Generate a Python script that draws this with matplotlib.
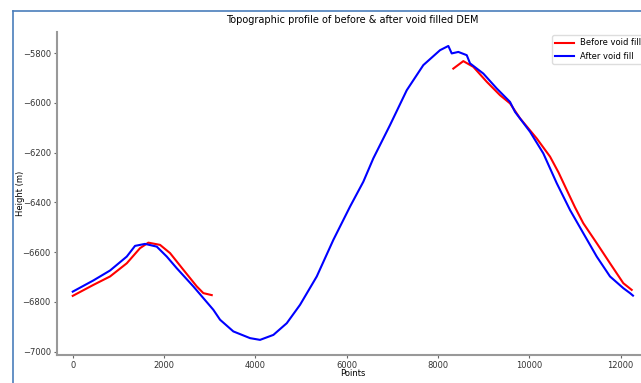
import matplotlib
matplotlib.use("Agg")
import matplotlib.pyplot as plt
from matplotlib.lines import Line2D

# after void fill (blue)
after_x = [0, 451, 817, 1183, 1364, 1583, 1840, 2059, 2278, 2641, 2860, 3079,
           3226, 3517, 3883, 4102, 4394, 4687, 4978, 5344, 5707, 6073, 6364,
           6583, 6949, 7315, 7678, 8044, 8226, 8300, 8445, 8629, 8701, 8992,
           9286, 9577, 9686, 10015, 10306, 10600, 10892, 11182, 11476, 11767,
           12058, 12205, 12270]
after_y = [-6759, -6714, -6674, -6618, -6575, -6567, -6578, -6618, -6665, -6738,
           -6785, -6832, -6872, -6919, -6946, -6953, -6933, -6886, -6812, -6698,
           -6551, -6417, -6317, -6223, -6089, -5949, -5848, -5788, -5771, -5801,
           -5795, -5808, -5841, -5882, -5942, -5996, -6036, -6116, -6203, -6323,
           -6431, -6524, -6618, -6698, -6745, -6765, -6775]

# before void fill (red), two pieces with the void between them
before_x1 = [0, 451, 817, 1183, 1474, 1656, 1912, 2131, 2422, 2716, 2860, 3044]
before_y1 = [-6776, -6732, -6698, -6645, -6584, -6562, -6571, -6604, -6671,
             -6738, -6765, -6773]
before_x2 = [8335, 8554, 8773, 9067, 9358, 9577, 9796, 10162, 10453, 10640,
             10819, 11000, 11182, 11476, 11767, 12058, 12242]
before_y2 = [-5862, -5832, -5855, -5915, -5969, -6002, -6062, -6143, -6216,
             -6280, -6350, -6420, -6484, -6564, -6645, -6725, -6752]

fig = plt.figure(figsize=(6.41, 3.83), dpi=100)
ax = fig.add_axes([0.089, 0.073, 0.922, 0.844])

ax.plot(before_x1, before_y1, color="red", lw=1.5, label="Before void fill")
ax.plot(before_x2, before_y2, color="red", lw=1.5)
ax.plot(after_x, after_y, color="blue", lw=1.5, label="After void fill")

ax.set_xlim(-344, 12600)
ax.set_ylim(-7014, -5714)
ax.set_xticks([0, 2000, 4000, 6000, 8000, 10000, 12000])
ax.set_yticks([-7000, -6800, -6600, -6400, -6200, -6000, -5800])

for s in ["top", "right"]:
    ax.spines[s].set_visible(False)
for s in ["left", "bottom"]:
    ax.spines[s].set_color("#999999")
    ax.spines[s].set_linewidth(1.5)
ax.tick_params(labelsize=6, colors="#333333", length=2.5, width=0.8, pad=2)
ax.tick_params(color="#666666")

ax.set_title("Topographic profile of before & after void filled DEM", fontsize=7)
ax.set_xlabel("Points", fontsize=6)
ax.set_ylabel("Height (m)", fontsize=6)
ax.xaxis.set_label_coords(0.50, -0.043)
ax.yaxis.set_label_coords(-0.054, 0.5)

ax.legend(loc="upper right", fontsize=6, handlelength=2.2, borderaxespad=0.4,
          framealpha=1, edgecolor="#dddddd")

# blue frame of the screenshot
fig.add_artist(Line2D([12.5 / 641, 1], [1 - 11 / 383, 1 - 11 / 383],
                      color="#4a7ebb", lw=1.2, transform=fig.transFigure))
fig.add_artist(Line2D([12.5 / 641, 12.5 / 641], [0, 1 - 11 / 383],
                      color="#4a7ebb", lw=1.2, transform=fig.transFigure))

fig.savefig("out.png", dpi=100)
